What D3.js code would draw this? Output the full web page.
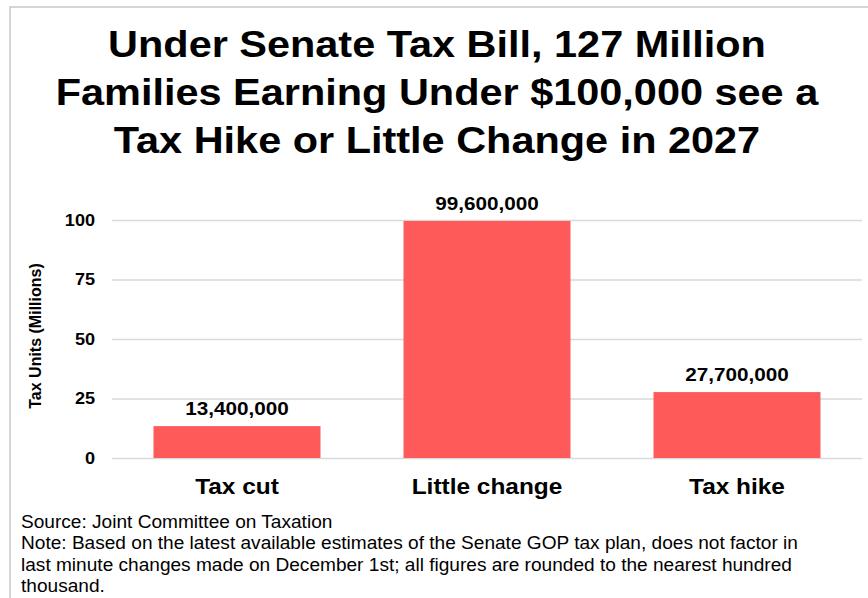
<!DOCTYPE html>
<html>
<head>
<meta charset="utf-8">
<script src="https://cdnjs.cloudflare.com/ajax/libs/d3/7.8.5/d3.min.js"></script>
<style>
  body { margin: 0; background: #fff; }
  svg { font-family: "Liberation Sans", Arial, sans-serif; }
</style>
</head>
<body>
<script>
// chart data
var categories = ["Tax cut", "Little change", "Tax hike"];
var values = [13.4, 99.6, 27.7];        // millions of tax units
var valueLabels = ["13,400,000", "99,600,000", "27,700,000"];
var yTicks = [0, 25, 50, 75, 100];
var titleLines = [
  "Under Senate Tax Bill, 127 Million",
  "Families Earning Under $100,000 see a",
  "Tax Hike or Little Change in 2027"
];
var footLines = [
  "Source: Joint Committee on Taxation",
  "Note: Based on the latest available estimates of the Senate GOP tax plan, does not factor in",
  "last minute changes made on December 1st; all figures are rounded to the nearest hundred",
  "thousand."
];

var width = 868, height = 598;
var margin = {top: 220, right: 6, bottom: 140, left: 112};

// the source font runs a bit wider than Liberation Sans, so widen text a little
function widen(sel, k) {
  sel.each(function() {
    var len = this.getComputedTextLength();
    d3.select(this).attr("textLength", len * k).attr("lengthAdjust", "spacingAndGlyphs");
  });
}

var svg = d3.select("body").append("svg")
    .attr("width", width)
    .attr("height", height);

// outer frame
svg.append("rect")
    .attr("x", 10).attr("y", 7)
    .attr("width", width + 20).attr("height", height + 20)
    .attr("fill", "none")
    .attr("stroke", "#c8c8c8")
    .attr("stroke-width", 1.5);

// title
svg.append("g").selectAll("text")
    .data(titleLines)
    .enter().append("text")
    .attr("x", 437)
    .attr("y", function(d, i) { return 57 + i * 48; })
    .attr("text-anchor", "middle")
    .attr("font-size", 37)
    .attr("font-weight", "bold")
    .attr("fill", "#000")
    .text(function(d) { return d; })
    .call(widen, 1.12);

var x = d3.scaleBand()
    .domain(categories)
    .range([margin.left, width - margin.right])
    .paddingInner(0.332)
    .paddingOuter(0.166);

var y = d3.scaleLinear()
    .domain([0, 100])
    .range([height - margin.bottom, margin.top]);

// gridlines + tick labels
var yAxis = svg.append("g")
    .attr("transform", "translate(" + margin.left + ",0)")
    .call(d3.axisLeft(y).tickValues(yTicks)
        .tickSize(-(width - margin.left - margin.right))
        .tickPadding(17));
yAxis.select(".domain").remove();
yAxis.selectAll(".tick line").attr("stroke", "#d9d9d9").attr("stroke-width", 1.3);
yAxis.selectAll(".tick text")
    .attr("font-size", 16)
    .attr("font-weight", "bold")
    .attr("font-family", "Liberation Sans, Arial, sans-serif")
    .attr("fill", "#000")
    .call(widen, 1.13);

// y label
svg.append("text")
    .attr("transform", "translate(41,336) rotate(-90)")
    .attr("text-anchor", "middle")
    .attr("font-size", 16)
    .attr("font-weight", "bold")
    .text("Tax Units (Millions)");

// bars
svg.append("g").selectAll("rect")
    .data(values)
    .enter().append("rect")
    .attr("x", function(d, i) { return x(categories[i]); })
    .attr("y", function(d) { return y(d); })
    .attr("width", x.bandwidth())
    .attr("height", function(d) { return y(0) - y(d); })
    .attr("fill", "#ff5a5a");

// value labels
svg.append("g").selectAll("text")
    .data(values)
    .enter().append("text")
    .attr("x", function(d, i) { return x(categories[i]) + x.bandwidth() / 2; })
    .attr("y", function(d) { return y(d) - 11; })
    .attr("text-anchor", "middle")
    .attr("font-size", 18)
    .attr("font-weight", "bold")
    .text(function(d, i) { return valueLabels[i]; })
    .call(widen, 1.15);

// category labels
svg.append("g").selectAll("text")
    .data(categories)
    .enter().append("text")
    .attr("x", function(d) { return x(d) + x.bandwidth() / 2; })
    .attr("y", 494)
    .attr("text-anchor", "middle")
    .attr("font-size", 22)
    .attr("font-weight", "bold")
    .text(function(d) { return d; })
    .call(widen, 1.11);

// footer
svg.append("g").selectAll("text")
    .data(footLines)
    .enter().append("text")
    .attr("x", 21)
    .attr("y", function(d, i) { return 528 + i * 21.3; })
    .attr("font-size", 17.5)
    .attr("fill", "#000")
    .text(function(d) { return d; })
    .call(widen, 1.09);
</script>
</body>
</html>
